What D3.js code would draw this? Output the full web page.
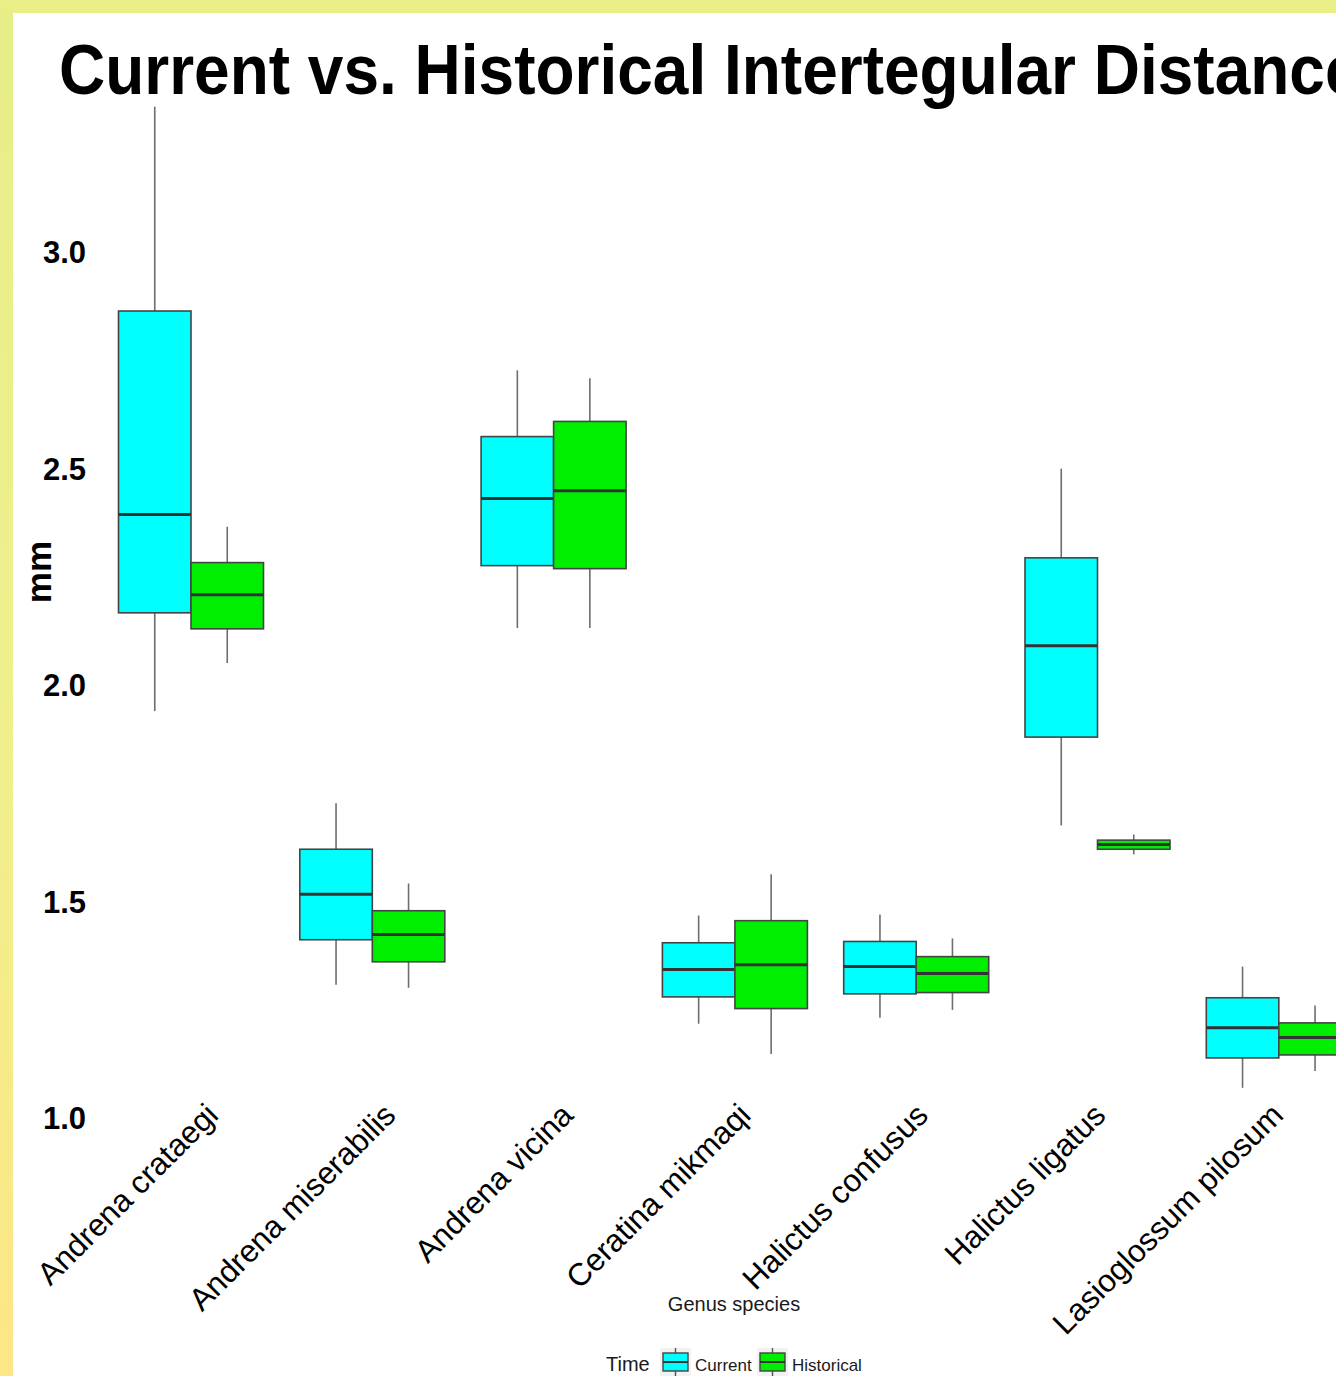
<!DOCTYPE html>
<meta charset="utf-8">
<script src="https://d3js.org/d3.v7.min.js"></script>
<style>
  body { margin: 0; }
  svg { display: block; font-family: "Liberation Sans", Arial, sans-serif; }
</style>
<div id="chart"></div>
<script>
// species on the x axis
var species = ["Andrena crataegi", "Andrena miserabilis", "Andrena vicina", "Ceratina mikmaqi",
               "Halictus confusus", "Halictus ligatus", "Lasioglossum pilosum"];
var times = ["Current", "Historical"];
// [lower whisker, q1, median, q3, upper whisker] in mm
var currentStats = [
  [1.942, 2.169, 2.396, 2.866, 3.338],
  [1.310, 1.414, 1.519, 1.623, 1.729],
  [2.134, 2.278, 2.433, 2.576, 2.729],
  [1.220, 1.282, 1.345, 1.407, 1.470],
  [1.234, 1.289, 1.352, 1.410, 1.472],
  [1.678, 1.882, 2.093, 2.296, 2.502],
  [1.072, 1.141, 1.211, 1.280, 1.352]
];
var historicalStats = [
  [2.053, 2.132, 2.211, 2.285, 2.368],
  [1.303, 1.363, 1.426, 1.481, 1.544],
  [2.134, 2.271, 2.451, 2.611, 2.711],
  [1.150, 1.255, 1.356, 1.458, 1.565],
  [1.252, 1.292, 1.336, 1.375, 1.417],
  [1.611, 1.623, 1.634, 1.644, 1.657],
  [1.111, 1.148, 1.188, 1.222, 1.262]
];
var yTicks = [1.0, 1.5, 2.0, 2.5, 3.0];
var fillColors = {"Current": "#00ffff", "Historical": "#00ee00"};

var W = 1336, H = 1376;

var svg = d3.select("#chart").append("svg")
    .attr("width", W)
    .attr("height", H);

// yellow backdrop around the white panel
var defs = svg.append("defs");
var grad = defs.append("linearGradient").attr("id", "bgv").attr("x1", 0).attr("y1", 0).attr("x2", 0).attr("y2", 1);
grad.append("stop").attr("offset", "0%").attr("stop-color", "#e6ee88");
grad.append("stop").attr("offset", "50%").attr("stop-color", "#eef08c");
grad.append("stop").attr("offset", "100%").attr("stop-color", "#fde686");
svg.append("rect").attr("width", W).attr("height", H).attr("fill", "url(#bgv)");
svg.append("rect").attr("x", 0).attr("y", 0).attr("width", W).attr("height", 13).attr("fill", "#e9ef86");
svg.append("rect").attr("x", 13).attr("y", 13).attr("width", W - 13).attr("height", H - 13).attr("fill", "#ffffff");

// scales
var x = d3.scalePoint().domain(species).range([191, 191 + 6 * 181.3]);
var xLab = d3.scalePoint().domain(species).range([220, 1285]); // label anchors sit a little off the boxes
var dodge = d3.scaleBand().domain(times).range([-72.5, 72.5]);
var y = d3.scaleLinear().domain([1, 3]).range([1119, 253]);

// title
svg.append("text")
    .attr("transform", "translate(59,94) scale(1,1.1)")
    .style("font-size", "64px")
    .style("font-weight", "bold")
    .attr("fill", "#000")
    .text("Current vs. Historical Intertegular Distance");

// y axis
var yAxis = svg.append("g")
    .attr("transform", "translate(86,0)")
    .call(d3.axisLeft(y).tickValues(yTicks).tickFormat(d3.format(".1f")).tickSize(0).tickPadding(0));
yAxis.select(".domain").remove();
yAxis.selectAll("text")
    .style("font-size", "31px")
    .style("font-weight", "bold")
    .attr("fill", "#000")
    .attr("font-family", "Liberation Sans, Arial, sans-serif");

svg.append("text")
    .attr("transform", "translate(51,572) rotate(-90)")
    .attr("text-anchor", "middle")
    .style("font-size", "35px")
    .style("font-weight", "bold")
    .text("mm");

// x labels
svg.append("g").selectAll("text")
    .data(species)
    .join("text")
    .attr("transform", function(d) { return "translate(" + xLab(d) + ",1117) rotate(-45)"; })
    .attr("text-anchor", "end")
    .style("font-size", "31.5px")
    .attr("fill", "#000")
    .text(function(d) { return d; });

svg.append("text")
    .attr("x", 734).attr("y", 1311)
    .attr("text-anchor", "middle")
    .style("font-size", "20px")
    .attr("fill", "#1a1a1a")
    .text("Genus species");

// boxes
var boxes = [];
species.forEach(function(s, i) {
  boxes.push({sp: s, time: "Current", v: currentStats[i]});
  boxes.push({sp: s, time: "Historical", v: historicalStats[i]});
});

var bw = dodge.bandwidth();
var bg = svg.append("g").selectAll("g")
    .data(boxes)
    .join("g")
    .attr("transform", function(d) { return "translate(" + (x(d.sp) + dodge(d.time)) + ",0)"; });

bg.append("line")
    .attr("x1", bw / 2).attr("x2", bw / 2)
    .attr("y1", function(d) { return y(d.v[4]); })
    .attr("y2", function(d) { return y(d.v[3]); })
    .attr("stroke", "#6e6e6e").attr("stroke-width", 1.6);
bg.append("line")
    .attr("x1", bw / 2).attr("x2", bw / 2)
    .attr("y1", function(d) { return y(d.v[1]); })
    .attr("y2", function(d) { return y(d.v[0]); })
    .attr("stroke", "#6e6e6e").attr("stroke-width", 1.6);
bg.append("rect")
    .attr("x", 0)
    .attr("width", bw)
    .attr("y", function(d) { return y(d.v[3]); })
    .attr("height", function(d) { return y(d.v[1]) - y(d.v[3]); })
    .attr("fill", function(d) { return fillColors[d.time]; })
    .attr("stroke", "#444").attr("stroke-width", 1.6);
bg.append("line")
    .attr("x1", 0).attr("x2", bw)
    .attr("y1", function(d) { return y(d.v[2]); })
    .attr("y2", function(d) { return y(d.v[2]); })
    .attr("stroke", "#333").attr("stroke-width", 3);

// legend
var lg = svg.append("g");
lg.append("text")
    .attr("x", 606).attr("y", 1371)
    .style("font-size", "20px")
    .attr("fill", "#1a1a1a")
    .text("Time");

var legX = d3.scalePoint().domain(times).range([660, 757]);
var keys = lg.selectAll("g.key")
    .data(times)
    .join("g")
    .attr("class", "key")
    .attr("transform", function(d) { return "translate(" + legX(d) + ",1348)"; });
keys.append("rect").attr("width", 31).attr("height", 30).attr("fill", "#f2f2f2");
keys.append("line").attr("x1", 15.5).attr("x2", 15.5).attr("y1", 0).attr("y2", 30)
    .attr("stroke", "#555").attr("stroke-width", 1.4);
keys.append("rect").attr("x", 3).attr("y", 5).attr("width", 25).attr("height", 18)
    .attr("fill", function(d) { return fillColors[d]; })
    .attr("stroke", "#444").attr("stroke-width", 1.4);
keys.append("line").attr("x1", 3).attr("x2", 28).attr("y1", 14).attr("y2", 14)
    .attr("stroke", "#333").attr("stroke-width", 2);
keys.append("text")
    .attr("x", 35).attr("y", 23)
    .style("font-size", "17px")
    .attr("fill", "#1a1a1a")
    .text(function(d) { return d; });
</script>
